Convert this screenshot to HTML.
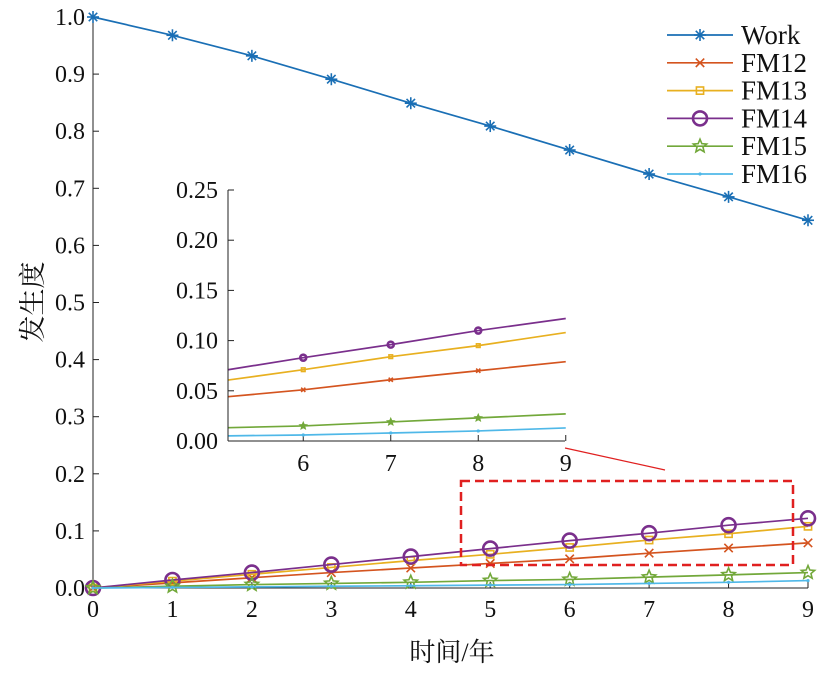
<!DOCTYPE html>
<html><head><meta charset="utf-8"><style>
body{margin:0;background:#fff}
svg text{font-family:"Liberation Serif","Noto Serif CJK SC",serif;fill:#111}
</style></head><body>
<svg id="c" width="822" height="673" xmlns="http://www.w3.org/2000/svg"></svg>
<script>
const years=[0,1,2,3,4,5,6,7,8,9];
const seriesNames=["Work","FM12","FM13","FM14","FM15","FM16"];
const work=[1.0,0.968,0.932,0.891,0.849,0.809,0.767,0.725,0.685,0.644];
const fm12=[0,0.009,0.018,0.027,0.035,0.043,0.051,0.061,0.070,0.079];
const fm13=[0,0.012,0.024,0.036,0.048,0.059,0.071,0.084,0.095,0.108];
const fm14=[0,0.014,0.027,0.041,0.055,0.069,0.083,0.096,0.110,0.122];
const fm15=[0,0.003,0.006,0.008,0.010,0.013,0.015,0.019,0.023,0.027];
const fm16=[0,0.001,0.002,0.003,0.004,0.005,0.006,0.008,0.010,0.013];
const yTicks=[0,0.1,0.2,0.3,0.4,0.5,0.6,0.7,0.8,0.9,1.0];
const insetYTicks=[0,0.05,0.10,0.15,0.20,0.25];
const insetXTicks=[6,7,8,9];
const all=[work,fm12,fm13,fm14,fm15,fm16];
const colors=["#1a6fb5","#d4541f","#e8b020","#7a2f8c","#72a83a","#4fb8e8"];
const markers=["star","x","sq","o","pent","dot"];
const svg=document.getElementById('c');const NS="http://www.w3.org/2000/svg";
function el(t,a,p){const e=document.createElementNS(NS,t);for(const k in a)e.setAttribute(k,a[k]);(p||svg).appendChild(e);return e;}
const X=v=>93+v*(715/9), Y=v=>588-v*571;
const IX0=5.14, IX=v=>228+(v-IX0)*87.5, IY=v=>441-v*1004;
function marker(g,m,x,y,c,s){
 if(m=="star"){for(let a=0;a<180;a+=45){const r=a*Math.PI/180;el('line',{x1:x-s*Math.cos(r),y1:y-s*Math.sin(r),x2:x+s*Math.cos(r),y2:y+s*Math.sin(r),stroke:c,'stroke-width':1.6},g);}}
 else if(m=="x"){el('path',{d:`M${x-s*.7},${y-s*.7}L${x+s*.7},${y+s*.7}M${x-s*.7},${y+s*.7}L${x+s*.7},${y-s*.7}`,stroke:c,'stroke-width':1.6},g);}
 else if(m=="sq"){el('rect',{x:x-s*.6,y:y-s*.6,width:s*1.2,height:s*1.2,fill:'none',stroke:c,'stroke-width':1.6},g);}
 else if(m=="o"){el('circle',{cx:x,cy:y,r:s,fill:'none',stroke:c,'stroke-width':2.6},g);}
 else if(m=="pent"){let d="";for(let i=0;i<10;i++){const r=(i%2?s*.45:s),a=-Math.PI/2+i*Math.PI/5;d+=(i?"L":"M")+(x+r*Math.cos(a))+","+(y+r*Math.sin(a));}el('path',{d:d+"Z",fill:'none',stroke:c,'stroke-width':1.6},g);}
 else {el('circle',{cx:x,cy:y,r:1.6,fill:c},g);}
}
const sizes=[6,6,6,7,7,2];
const ax=el('g',{});
el('line',{x1:93,y1:17,x2:93,y2:588,stroke:'#222','stroke-width':1},ax);
el('line',{x1:93,y1:588,x2:808,y2:588,stroke:'#222','stroke-width':1},ax);
yTicks.forEach(t=>{el('line',{x1:93,y1:Y(t),x2:99,y2:Y(t),stroke:'#222'},ax);const tx=el('text',{x:85,y:Y(t)+8,'text-anchor':'end','font-size':24},ax);tx.textContent=t.toFixed(1);});
years.forEach(t=>{el('line',{x1:X(t),y1:588,x2:X(t),y2:582,stroke:'#222'},ax);const tx=el('text',{x:X(t),y:617,'text-anchor':'middle','font-size':24},ax);tx.textContent=t;});
const xl=el('text',{x:452,y:661,'text-anchor':'middle','font-size':26});xl.textContent="时间/年";
const yl=el('text',{x:0,y:0,transform:'translate(42,302) rotate(-90)','text-anchor':'middle','font-size':27});yl.textContent="发生度";
all.forEach((s,i)=>{const g=el('g',{});
 el('polyline',{points:s.map((v,j)=>X(years[j])+","+Y(v)).join(" "),fill:'none',stroke:colors[i],'stroke-width':1.7},g);
 s.forEach((v,j)=>marker(g,markers[i],X(years[j]),Y(v),colors[i],sizes[i]));});
const zb=el('rect',{x:461,y:481,width:332,height:84,fill:'none',stroke:'#e02020','stroke-width':2.5,'stroke-dasharray':'9,5'});
el('line',{x1:565,y1:448,x2:665,y2:470,stroke:'#e02020','stroke-width':1.2});
const ins=el('g',{});
el('rect',{x:228,y:190,width:337,height:251,fill:'#fff'},ins);
insetYTicks.forEach(t=>{el('line',{x1:228,y1:IY(t),x2:234,y2:IY(t),stroke:'#222'},ins);const tx=el('text',{x:218,y:IY(t)+8,'text-anchor':'end','font-size':24},ins);tx.textContent=t.toFixed(2);});
insetXTicks.forEach(t=>{el('line',{x1:IX(t),y1:441,x2:IX(t),y2:435,stroke:'#222'},ins);const tx=el('text',{x:IX(t),y:471,'text-anchor':'middle','font-size':24},ins);tx.textContent=t;});
all.slice(1).forEach((s,k)=>{const i=k+1;const g=el('g',{},ins);
 const v5=s[5]+(s[6]-s[5])*(IX0-5);
 let pts=[IX(IX0)+","+IY(v5)];for(let j=6;j<=9;j++)pts.push(IX(years[j])+","+IY(s[j]));
 el('polyline',{points:pts.join(" "),fill:'none',stroke:colors[i],'stroke-width':1.7},g);
 for(let j=6;j<=8;j++)marker(g,markers[i],IX(years[j]),IY(s[j]),colors[i],i==5?2:3);});
el('line',{x1:228,y1:190,x2:228,y2:441,stroke:'#222'},ins);
el('line',{x1:228,y1:441,x2:565,y2:441,stroke:'#222'},ins);
const lg=el('g',{});
seriesNames.forEach((n,i)=>{const y=35+i*27.8;const g=el('g',{},lg);
 el('line',{x1:667,y1:y,x2:733,y2:y,stroke:colors[i],'stroke-width':1.7},g);marker(g,markers[i],700,y,colors[i],sizes[i]);
 const t=el('text',{x:741,y:y+9,'font-size':27},g);t.textContent=n;});
</script>
</body></html>
